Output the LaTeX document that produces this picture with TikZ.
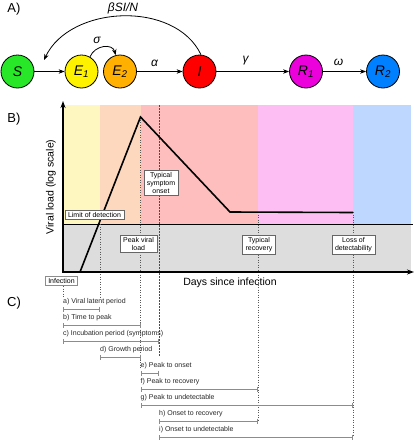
\documentclass[tikz,border=0pt]{standalone}
\usepackage{fontspec}
\setmainfont{Liberation Sans}
\usetikzlibrary{arrows.meta}
\definecolor{cS}{RGB}{40,230,40}
\definecolor{cEa}{RGB}{255,242,0}
\definecolor{cEb}{RGB}{255,176,0}
\definecolor{cI}{RGB}{255,0,0}
\definecolor{cRa}{RGB}{236,0,220}
\definecolor{cRb}{RGB}{0,128,255}
\definecolor{bY}{RGB}{255,247,192}
\definecolor{bP}{RGB}{253,216,190}
\definecolor{bR}{RGB}{255,190,190}
\definecolor{bM}{RGB}{253,190,244}
\definecolor{bB}{RGB}{190,215,255}
\definecolor{bG}{RGB}{221,221,221}
\begin{document}
\begin{tikzpicture}[x=1pt,y=-1pt,
  state/.style={circle,draw=black,line width=0.8pt,minimum size=33pt,inner sep=0pt,font=\fontsize{14}{14}\selectfont\itshape},
  arr/.style={line width=0.8pt,-{Stealth[length=6pt,width=4.5pt]}},
  rate/.style={font=\fontsize{12}{12}\selectfont\itshape},
  panel/.style={font=\fontsize{13}{13}\selectfont},
  axlab/.style={font=\fontsize{10.5}{10.5}\selectfont},
  infobox/.style={draw=black!60,fill=white,line width=0.6pt,align=center,font=\fontsize{7}{8}\selectfont,inner xsep=3pt,inner ysep=2pt},
  gdot/.style={black!65,line width=0.6pt,dash pattern=on 1pt off 1.5pt},
  rdot/.style={red,line width=0.8pt,dash pattern=on 1.5pt off 1.5pt},
  barline/.style={black!45,line width=0.8pt,{Bar[width=5pt,line width=0.8pt]}-{Bar[width=5pt,line width=0.8pt]}},
  barlab/.style={anchor=west,inner sep=0pt,font=\fontsize{7}{8}\selectfont,text=black!85}
]
\useasboundingbox (0,0) rectangle (414,440);

% ---------- Panel A ----------
\node[panel] (pA) at (14,9) {A)};
\node[state,fill=cS] (S) at (17.5,71.5) {S};
\node[state,fill=cEa] (E1) at (81.5,71.5) {E\textsubscript{1}};
\node[state,fill=cEb] (E2) at (120,71.5) {E\textsubscript{2}};
\node[state,fill=cI] (I) at (199.5,71.5) {I};
\node[state,fill=cRa] (R1) at (306,71.5) {R\textsubscript{1}};
\node[state,fill=cRb] (R2) at (383,71.5) {R\textsubscript{2}};
\coordinate (inf) at (44,60);
\draw[arr] (S) -- (E1);
\draw[arr] (E1.60) .. controls +(5,-12) and +(-3,-12) .. (E2.105);
\draw[arr] (E2) -- (I);
\draw[arr] (I) -- (R1);
\draw[arr] (R1) -- (R2);
\draw[arr] (I.85) .. controls (175,0) and (70,5) .. (inf);
\node[rate] (lbeta) at (123,8) {βSI/N};
\node[rate] (lsigma) at (97,40) {σ};
\node[rate] (lalpha) at (154.5,63) {α};
\node[rate] (lgamma) at (245.5,61) {γ};
\node[rate] (lomega) at (338.5,62) {ω};

% ---------- Panel B ----------
\node[panel] (pB) at (14,119) {B)};
\fill[bY] (63,105) rectangle (100,224);
\fill[bP] (100,105) rectangle (141,224);
\fill[bR] (141,105) rectangle (258,224);
\fill[bM] (258,105) rectangle (353,224);
\fill[bB] (353,105) rectangle (411,224);
\fill[bG] (63,224) rectangle (411,272);
\draw[line width=0.6pt] (63,224) -- (413,224);

% dotted guides
\draw[gdot] (63,286) -- (63,298);
\draw[gdot] (100,224) -- (100,298);
\draw[gdot] (140.5,117) -- (140.5,368);
\draw[gdot] (258,212) -- (258,421);
\draw[gdot] (353,212) -- (353,437);
\draw[rdot] (159,105) -- (159,357);

% viral load
\draw[line width=1.6pt,line join=miter] (80,272) -- (140.5,117) -- (230,212) -- (353,212.5);

% axes
\draw[line width=1.2pt,-{Stealth[length=7pt,width=5pt]}] (63,272.6) -- (63,101);
\draw[line width=1.2pt,-{Stealth[length=7pt,width=5pt]}] (62.4,272) -- (414,272);
\node[axlab,rotate=90] (ylab) at (51,187) {Viral load (log scale)};
\node[axlab] (xlab) at (230,283) {Days since infection};

% boxes
\node[infobox] (lod) at (94.5,214.5) {Limit of detection};
\node[infobox] (onset) at (161,183) {Typical\\symptom\\onset};
\node[infobox] (peak) at (138.5,244) {Peak viral\\load};
\node[infobox] (recov) at (259,245) {Typical\\recovery};
\node[infobox] (loss) at (353.5,245) {Loss of\\detectability};
\node[infobox,draw=black!45] (infbox) at (61.5,280.5) {Infection};

% ---------- Panel C ----------
\node[panel] (pC) at (14,303) {C)};
\foreach \xa/\xb/\k/\txt in {
  63/100/0/{a) Viral latent period},
  63/140.5/1/{b) Time to peak},
  63/159/2/{c) Incubation period (symptoms)},
  100/140.5/3/{d) Growth period},
  140.5/159/4/{e) Peak to onset},
  140.5/258/5/{f) Peak to recovery},
  140.5/353/6/{g) Peak to undetectable},
  159/258/7/{h) Onset to recovery},
  159/353/8/{i) Onset to undetectable}}{
  \node[barlab] at (\xa,301.5+16*\k) {\txt};
  \draw[barline] (\xa,309+16*\k) -- (\xb,309+16*\k);
}
\end{tikzpicture}
\end{document}
